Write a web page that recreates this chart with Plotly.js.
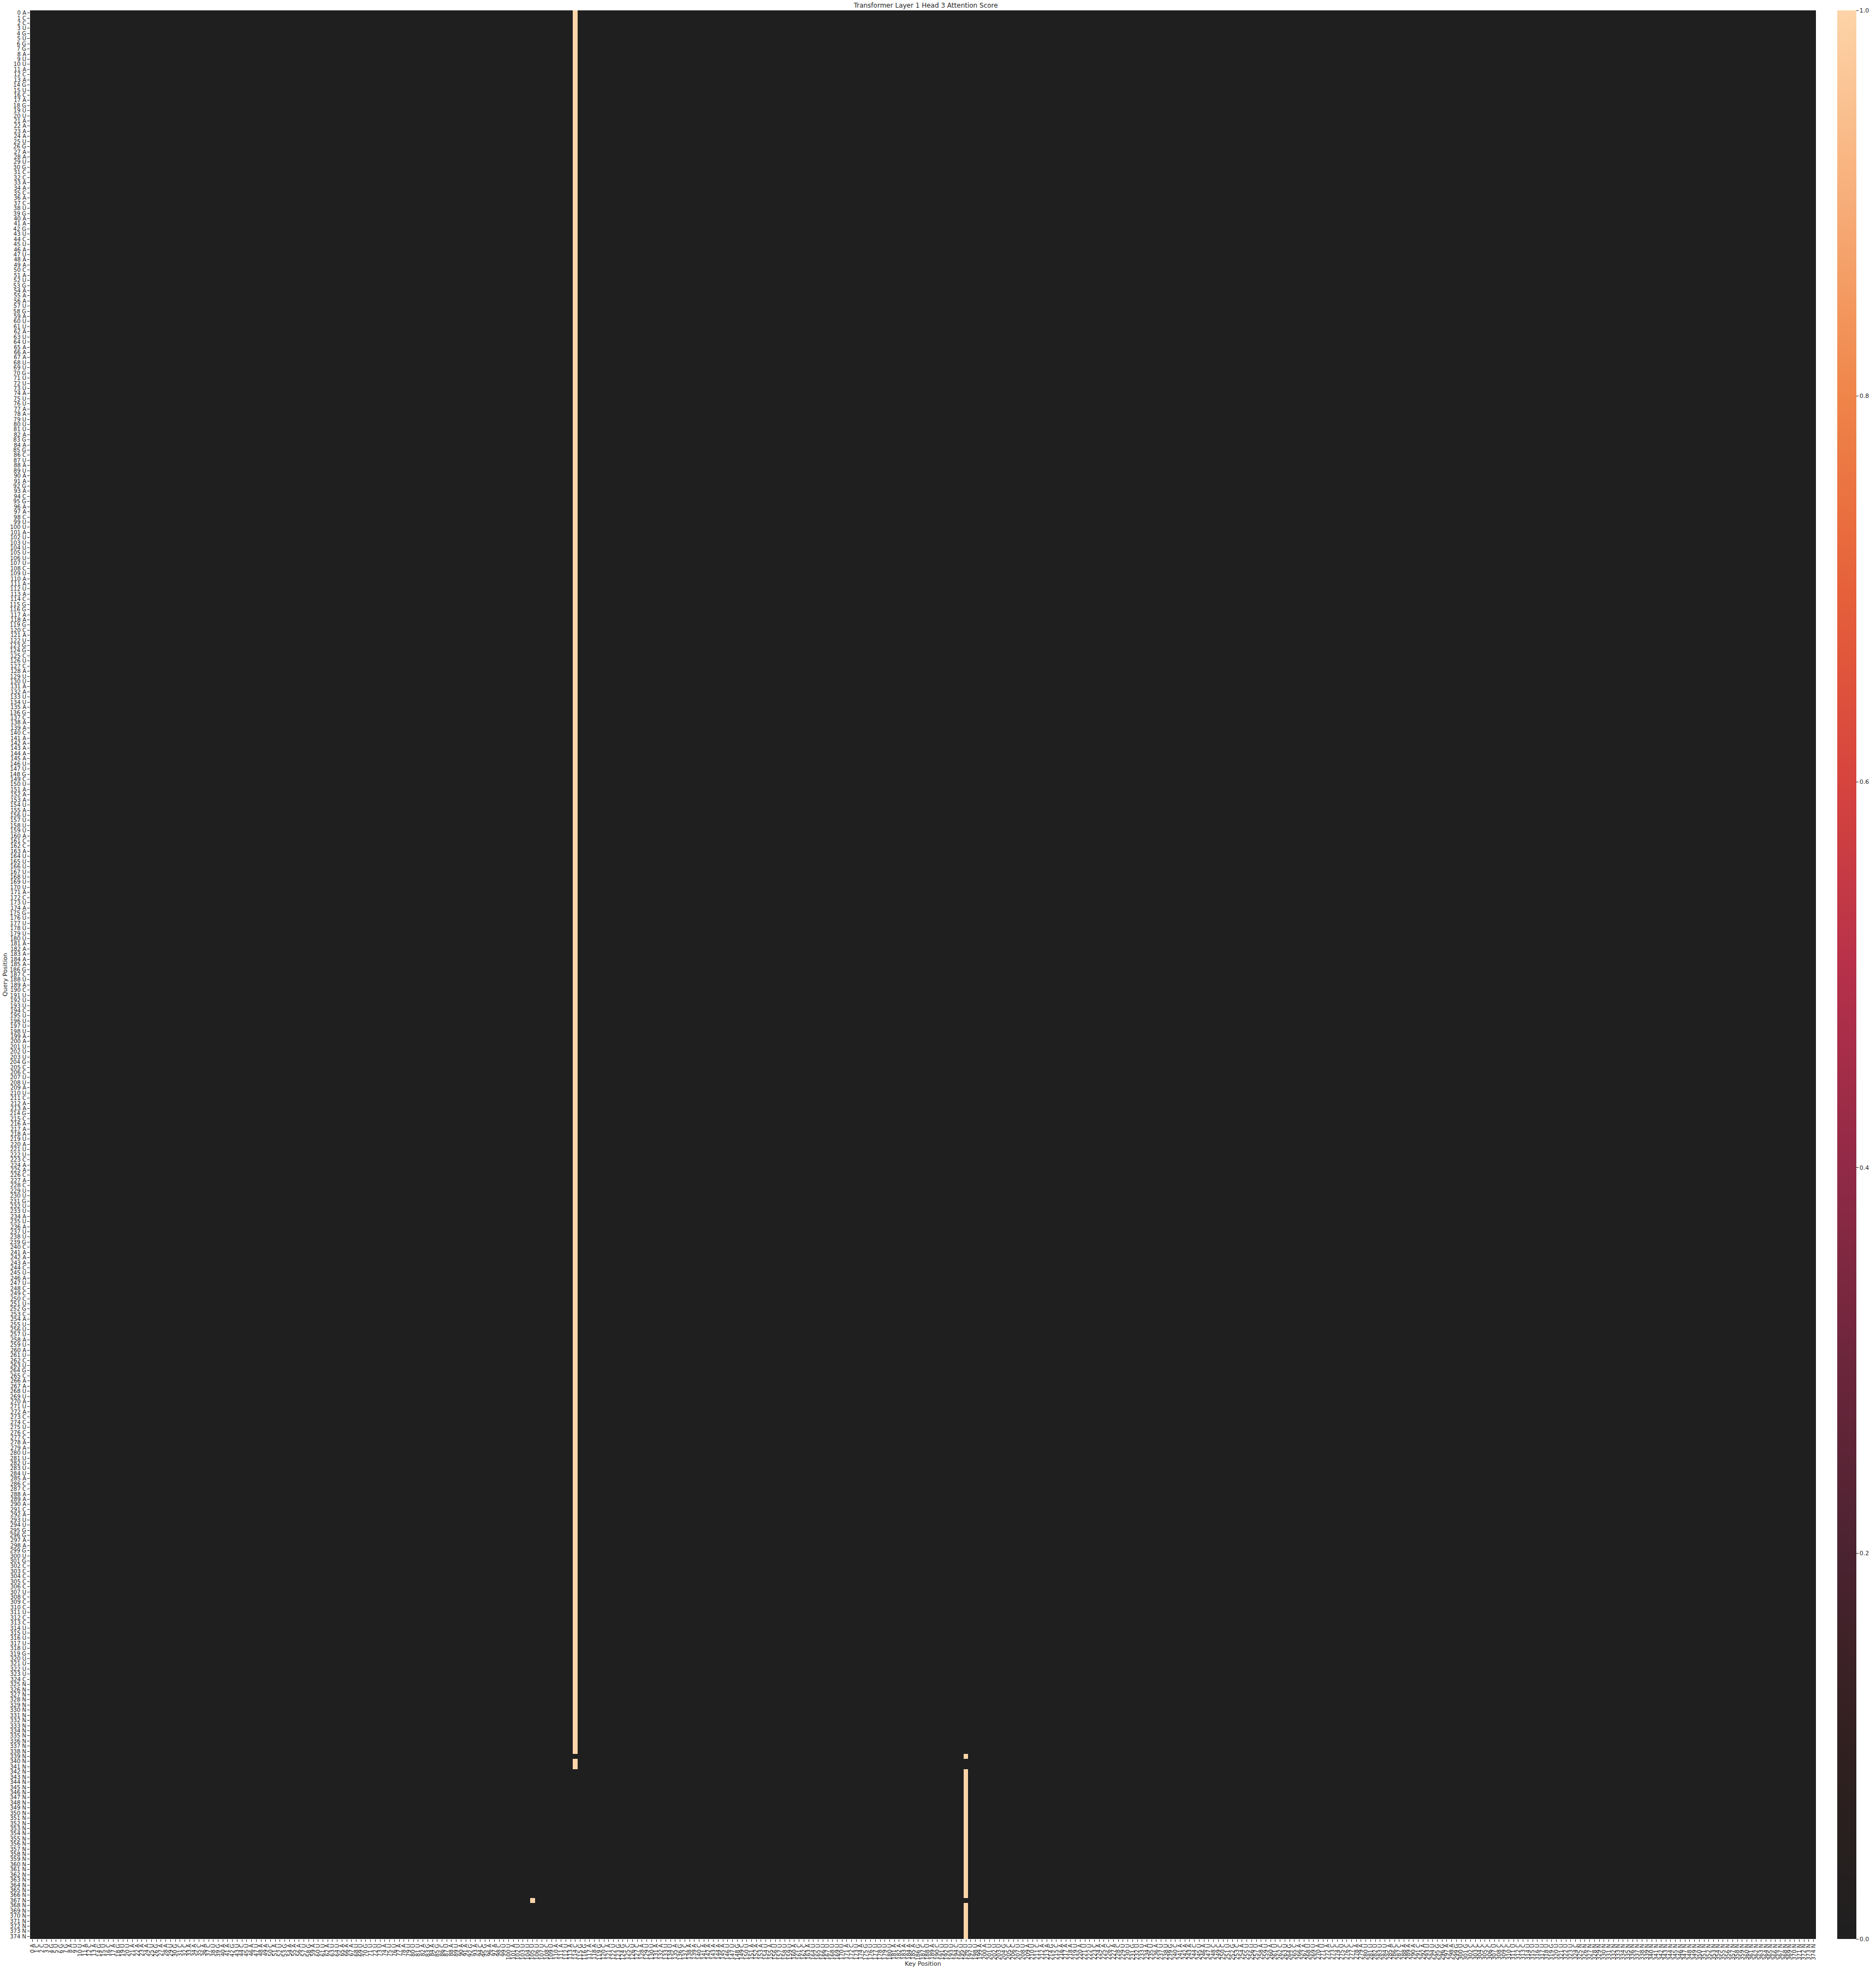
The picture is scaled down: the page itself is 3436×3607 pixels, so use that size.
<!DOCTYPE html>
<html>
<head>
<meta charset="utf-8">
<script src="https://cdn.plot.ly/plotly-3.0.1.min.js"></script>
<style>html,body{margin:0;padding:0;background:#fff;}#chart{width:3436px;height:3607px;}</style>
</head>
<body>
<div id="chart"></div>
<script>
// Nucleotide at each position (query rows and key columns share the same sequence)
const sequence =
  "ACCUGUGGAU" + "UACAGUCAGU" + "UAAAAUGAAU" + "GCCAACACUG" + "AAGUCUAUAA" +
  "CAUGAAAUGA" + "UUAUUAAAUU" + "GUUUAUUAAU" + "UUAGAGCUAU" + "AAGACGAACU" +
  "UAUUUUUUCU" + "AAUACGGAAG" + "CAUGGCUCAU" + "UAAUUAGCAA" + "CAAAAAUUGC" +
  "UAAAUAUUUU" + "ACCAUUUUUU" + "UACUAGUUUU" + "UAAAAAGCUA" + "CUUUCUUUUA" +
  "AUUUGCCUUA" + "UCAAGCAAAU" + "AUUCAACACU" + "UGUUAUAUUG" + "CAAACUAUCC" +
  "CUGCAUUUAU" + "AUCUGCAAUU" + "AUACCUCCAA" + "UUUUUACCAA" + "ACAUUGGAAG" +
  "UGCCCCCUCC" + "CUCCUUUUUG" + "UUUUC" + "N".repeat(50);

// Attention runs: query rows [runStart..runEnd] attend to key runKey
const runStart = [0,   339, 340, 342, 367, 368];
const runEnd   = [338, 339, 341, 366, 367, 374];
const runKey   = [114, 196, 114, 196, 105, 196];
const runScore = [1.0, 1.0, 1.0, 1.0, 1.0, 1.0];

const colorTicks = [0.0, 0.2, 0.4, 0.6, 0.8, 1.0];

const n = sequence.length;
const positions = Array.from({length: n}, (_, i) => i);
const labels = positions.map(i => i + " " + sequence[i]);

const z = positions.map(() => new Array(n).fill(0));
runStart.forEach((s, k) => {
  for (let r = s; r <= runEnd[k]; r++) z[r][runKey[k]] = runScore[k];
});

const colorscale = [
  [0.0, "#1f1f1f"],
  [0.1, "#30201f"],
  [0.2, "#4b2330"],
  [0.3, "#6c263c"],
  [0.4, "#912a46"],
  [0.5, "#b5304a"],
  [0.6, "#d6443e"],
  [0.7, "#e6613a"],
  [0.8, "#ef8549"],
  [0.9, "#f7ad78"],
  [1.0, "#fdd4a8"]
];

const font = {family: "DejaVu Sans, sans-serif", size: 10, color: "#262626"};

const trace = {
  type: "heatmap",
  x: positions,
  y: positions,
  z: z,
  zmin: 0,
  zmax: 1,
  colorscale: colorscale,
  hoverongaps: false,
  colorbar: {
    x: 1.0119, xanchor: "left", xpad: 0,
    y: 0.5, yanchor: "middle", ypad: 0,
    len: 1, lenmode: "fraction",
    thickness: 35, thicknessmode: "pixels",
    outlinewidth: 0,
    tickmode: "array", tickvals: colorTicks,
    ticktext: colorTicks.map(v => v.toFixed(1)),
    ticks: "outside", ticklen: 4, tickwidth: 1, tickcolor: "#262626",
    tickfont: {family: "DejaVu Sans, sans-serif", size: 11, color: "#262626"}
  }
};

const layout = {
  width: 3436,
  height: 3607,
  margin: {l: 55, r: 100, t: 19, b: 55, pad: 0},
  paper_bgcolor: "#ffffff",
  plot_bgcolor: "#ffffff",
  font: font,
  title: {
    text: "Transformer Layer 1 Head 3 Attention Score",
    font: {family: "DejaVu Sans, sans-serif", size: 12, color: "#262626"},
    x: 0.4935, xanchor: "center", y: 0.9972, yanchor: "middle"
  },
  xaxis: {
    range: [-0.5, n - 0.5],
    tickmode: "array", tickvals: positions, ticktext: labels,
    tickangle: -90,
    ticks: "outside", ticklen: 4, tickwidth: 1, tickcolor: "#262626",
    tickfont: {family: "DejaVu Sans, sans-serif", size: 10, color: "#262626"},
    showgrid: false, zeroline: false, showline: false,
    title: {text: "Key Position", standoff: 2,
            font: {family: "DejaVu Sans, sans-serif", size: 11, color: "#262626"}}
  },
  yaxis: {
    range: [n - 0.5, -0.5],
    tickmode: "array", tickvals: positions, ticktext: labels,
    ticks: "outside", ticklen: 4, tickwidth: 1, tickcolor: "#262626",
    tickfont: {family: "DejaVu Sans, sans-serif", size: 10, color: "#262626"},
    showgrid: false, zeroline: false, showline: false,
    title: {text: "Query Position", standoff: 2,
            font: {family: "DejaVu Sans, sans-serif", size: 11, color: "#262626"}}
  }
};

Plotly.newPlot("chart", [trace], layout, {displayModeBar: false, staticPlot: true});
</script>
</body>
</html>
